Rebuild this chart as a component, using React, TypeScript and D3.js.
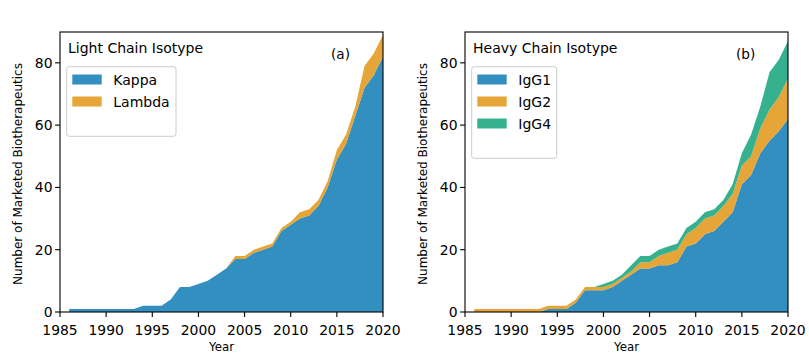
import * as d3 from 'd3';
import React from 'react';

// years 1986 .. 2020
const years = d3.range(1986, 2021);

const kappa = [1, 1, 1, 1, 1, 1, 1, 1, 2, 2, 2, 4, 8, 8, 9, 10, 12, 14, 17, 17, 19, 20, 21, 26, 28, 30, 31, 34, 40, 49, 54, 63, 72, 76, 82];
const lambda = [0, 0, 0, 0, 0, 0, 0, 0, 0, 0, 0, 0, 0, 0, 0, 0, 0, 0, 1, 1, 1, 1, 1, 1, 1, 2, 2, 2, 2, 3, 3, 3, 7, 7, 7];

const igg1 = [0, 0, 0, 0, 0, 0, 0, 0, 1, 1, 1, 3, 7, 7, 7, 8, 10, 12, 14, 14, 15, 15, 16, 21, 22, 25, 26, 29, 32, 41, 44, 51, 55, 58, 62];
const igg2 = [1, 1, 1, 1, 1, 1, 1, 1, 1, 1, 1, 1, 1, 1, 1, 1, 1, 1, 2, 2, 3, 4, 4, 4, 5, 5, 5, 5, 6, 6, 6, 8, 10, 11, 13];
const igg4 = [0, 0, 0, 0, 0, 0, 0, 0, 0, 0, 0, 0, 0, 0, 1, 1, 1, 2, 2, 2, 2, 2, 2, 2, 2, 2, 2, 2, 3, 4, 7, 7, 12, 12, 12];

const xTicks = [1985, 1990, 1995, 2000, 2005, 2010, 2015, 2020];
const yTicks = [0, 20, 40, 60, 80];

const blue = '#348fc1';
const orange = '#e5a537';
const green = '#35b18f';

const font = '"DejaVu Sans", sans-serif';

const top = 32;
const bottom = 312;
const yScale = d3.scaleLinear().domain([0, 89.9]).range([bottom, top]);

type Series = { name: string, values: number[], color: string };

const Panel = ({ left, right, title, tag, series }: { left: number, right: number, title: string, tag: string, series: Series[] }) => {
  const xScale = d3.scaleLinear().domain([1985, 2020]).range([left, right]);
  const rows = years.map((yr, i) => {
    const r: any = { year: yr };
    series.forEach(s => { r[s.name] = s.values[i]; });
    return r;
  });
  const stacked = d3.stack().keys(series.map(s => s.name))(rows);
  const area = d3.area<any>()
    .x(d => xScale(d.data.year))
    .y0(d => yScale(d[0]))
    .y1(d => yScale(d[1]));

  const legW = series.length === 2 ? 109.3 : 85;
  const legH = 25.6 + series.length * 22;

  return (
    <g>
      {stacked.map((layer, i) => (
        <path key={layer.key} d={area(layer as any) || ''} fill={series[i].color} />
      ))}
      <rect x={left} y={top} width={right - left} height={bottom - top} fill="none" stroke="#000" strokeWidth={1.1} />
      {xTicks.map(t => (
        <g key={t}>
          <line x1={xScale(t)} x2={xScale(t)} y1={bottom} y2={bottom + 4.9} stroke="#000" strokeWidth={1.1} />
          <text x={xScale(t)} y={334.5} textAnchor="middle" fontSize={13.9}>{t}</text>
        </g>
      ))}
      {yTicks.map(t => (
        <g key={t}>
          <line x1={left - 4.9} x2={left} y1={yScale(t)} y2={yScale(t)} stroke="#000" strokeWidth={1.1} />
          <text x={left - 7.5} y={yScale(t) + 5} textAnchor="end" fontSize={13.9}>{t}</text>
        </g>
      ))}
      <text x={(left + right) / 2} y={351} textAnchor="middle" fontSize={11.8}>Year</text>
      <text transform={`translate(${left - 42.5},${(top + bottom) / 2 + 2}) rotate(-90)`} textAnchor="middle" dominantBaseline="central" fontSize={12}>
        Number of Marketed Biotherapeutics
      </text>
      <text x={left + 8} y={53} fontSize={14}>{title}</text>
      <text x={right - 52} y={58.5} fontSize={13.6}>{tag}</text>
      <rect x={left + 6.7} y={66.7} width={legW} height={legH} rx={2.5} fill="#fff" fillOpacity={0.8} stroke="#cccccc" strokeWidth={1} />
      {series.map((s, i) => (
        <g key={s.name}>
          <rect x={left + 12.3} y={74.5 + i * 22} width={29.4} height={10} fill={s.color} />
          <text x={left + 53.3} y={84.5 + i * 22} fontSize={14}>{s.name}</text>
        </g>
      ))}
    </g>
  );
};

export default function App() {
  return (
    <svg width={809} height={363} style={{ position: 'absolute', left: 0, top: 0, background: '#fff' }} fontFamily={font}>
      <Panel left={60} right={383} title="Light Chain Isotype" tag="(a)"
        series={[{ name: 'Kappa', values: kappa, color: blue }, { name: 'Lambda', values: lambda, color: orange }]} />
      <Panel left={465} right={788} title="Heavy Chain Isotype" tag="(b)"
        series={[{ name: 'IgG1', values: igg1, color: blue }, { name: 'IgG2', values: igg2, color: orange }, { name: 'IgG4', values: igg4, color: green }]} />
    </svg>
  );
}
